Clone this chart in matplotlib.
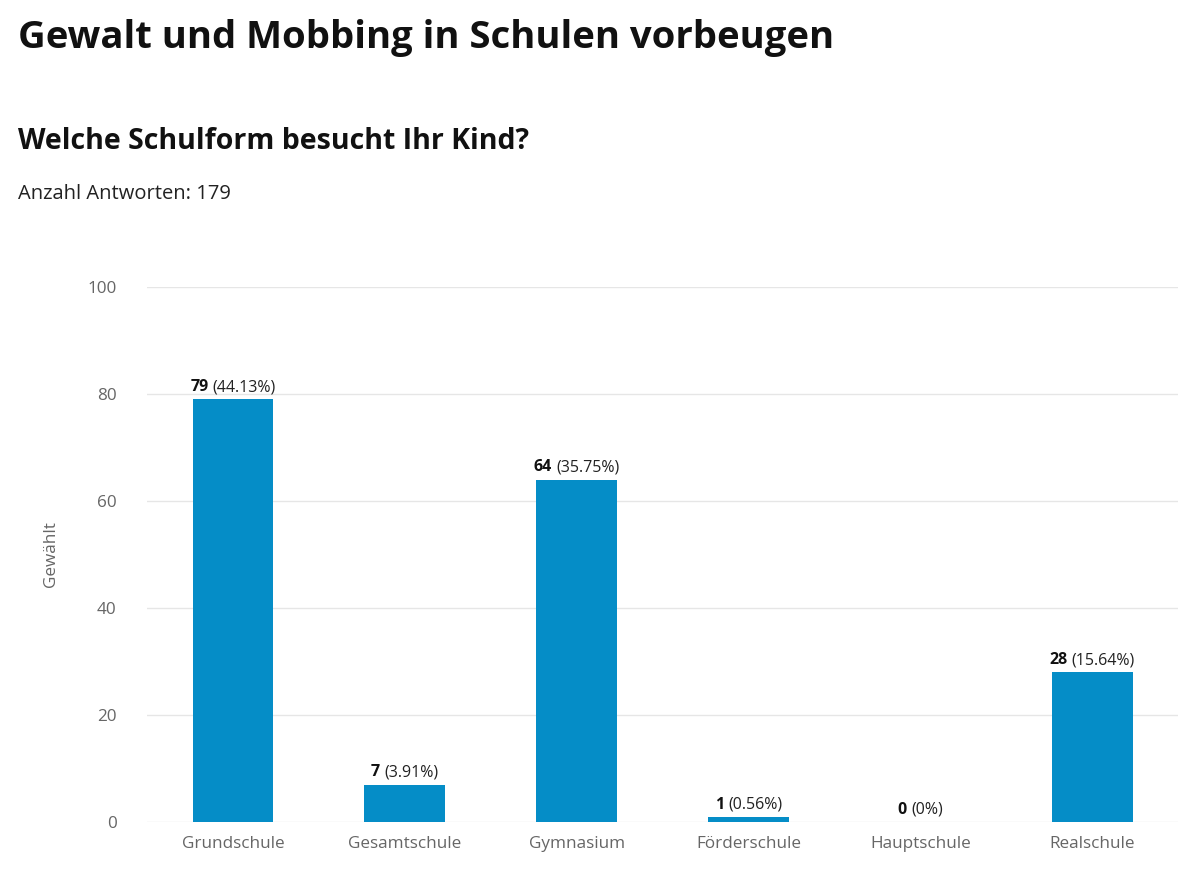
import matplotlib.pyplot as plt
from matplotlib.offsetbox import TextArea, HPacker, AnnotationBbox

schulformen = ["Grundschule", "Gesamtschule", "Gymnasium", "Förderschule", "Hauptschule", "Realschule"]
anzahl = [79, 7, 64, 1, 0, 28]
prozent = ["44.13%", "3.91%", "35.75%", "0.56%", "0%", "15.64%"]
gesamt = 179

plt.rcParams["font.family"] = ["Open Sans", "DejaVu Sans"]

fig = plt.figure(figsize=(11.99, 8.94), dpi=100)
ax = fig.add_axes([0.1226, 0.0805, 0.86, 0.5985])

x = range(len(schulformen))
ax.bar(x, anzahl, width=0.47, color="#058DC7", zorder=3)

for xi, n, p in zip(x, anzahl, prozent):
    box = HPacker(children=[
        TextArea(str(n), textprops=dict(fontsize=11.5, fontweight="bold", color="#111111")),
        TextArea(f"({p})", textprops=dict(fontsize=11.5, color="#222222")),
    ], pad=0, sep=3)
    ab = AnnotationBbox(box, (xi, n), xybox=(0, 3), xycoords="data", boxcoords="offset points",
                        box_alignment=(0.5, 0), frameon=False, zorder=5)
    ax.add_artist(ab)

ax.set_ylim(0, 100)
ax.set_xlim(-0.5, len(schulformen) - 0.5)
ax.set_yticks([0, 20, 40, 60, 80, 100])
ax.set_xticks(list(x))
ax.set_xticklabels(schulformen)
ax.grid(axis="y", color="#e6e6e6", linewidth=1, zorder=0)
for s in ax.spines.values():
    s.set_visible(False)
ax.tick_params(axis="both", length=0, colors="#666666", labelsize=12.3)
ax.tick_params(axis="y", pad=22)
ax.tick_params(axis="x", pad=10)
ax.set_ylabel("Gewählt", color="#666666", fontsize=12.3, labelpad=20)

fig.text(0.015, 0.957, "Gewalt und Mobbing in Schulen vorbeugen", fontsize=27.5, fontweight="bold",
         color="#111111", va="center")
fig.text(0.015, 0.842, "Welche Schulform besucht Ihr Kind?", fontsize=20.5, fontweight="bold",
         color="#111111", va="center")
fig.text(0.015, 0.783, f"Anzahl Antworten: {gesamt}", fontsize=14.5, color="#222222", va="center")

fig.savefig("out.png", dpi=100, facecolor="white")
